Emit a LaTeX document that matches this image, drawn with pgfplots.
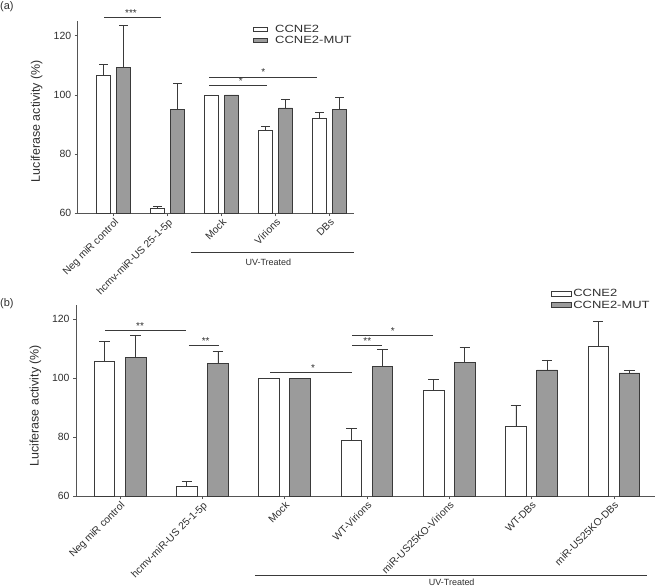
\documentclass[border=0pt]{standalone}
\usepackage{pgfplots}
\pgfplotsset{compat=1.18}
\usepackage{fontspec}
\setmainfont{Liberation Sans}
\definecolor{barline}{HTML}{3A3A3A}
\definecolor{bargray}{HTML}{9B9B9B}
\definecolor{axisgray}{HTML}{555555}
\definecolor{txt}{HTML}{2E2E2E}
\newcommand{\legfont}{\fontsize{10.5}{10.5}\selectfont\addfontfeature{FakeStretch=1.24}}
\pgfplotsset{
  mybars/.style={
    scale only axis, axis lines=left,
    axis line style={-, axisgray, line width=0.9bp},
    ymin=60, ymax=125, ytick={60,80,100,120},
    tick align=outside, major tick length=3bp,
    tick style={axisgray, line width=0.7bp},
    y tick label style={font=\fontsize{10.5}{12}\selectfont, color=txt},
    x tick label style={font=\fontsize{10.3}{11}\selectfont, rotate=45, anchor=north east, inner sep=1bp, color=txt},
    /pgf/number format/assume math mode=true,
    ylabel={Luciferase activity (\%)},
    ybar,
    error bars/y dir=plus, error bars/y explicit,
    error bars/error bar style={barline, line width=0.8bp},
    legend cell align=left,
  },
  whitebar/.style={draw=barline, fill=white, line width=0.8bp},
  graybar/.style={draw=barline, fill=bargray, line width=0.8bp},
}
\begin{document}
\begin{tikzpicture}
\path[use as bounding box] (0bp,0bp) rectangle (656bp,-588bp);
% ---------------- panel (a)
\begin{axis}[mybars,
  at={(77.7bp,-213.3bp)}, anchor=south west,
  width=276.3bp, height=192.4bp,
  xmin=-0.667, xmax=4.45,
  xtick={0,1,2,3,4},
  xticklabels={Neg miR control, hcmv-miR-US 25-1-5p, Mock, Virions, DBs},
  bar width=14bp,
  every axis y label/.style={at={(axis description cs:0,0.5)}, xshift=-41bp, yshift=-4bp, rotate=90, anchor=center, font=\fontsize{12.5}{14}\selectfont, color=txt},
  error bars/error mark options={rotate=90, barline, line width=0.8bp, mark size=4.5bp},
  legend image code/.code={\draw[#1] (0bp,-2bp) rectangle (14.4bp,2bp);},
  legend style={draw=none, fill=none, inner sep=0pt, at={(axis description cs:0.632,0.99)}, anchor=north west,
    font=\legfont, row sep=-1.5bp,
    nodes={text=txt, inner xsep=7.5bp}},
]
\addplot[whitebar, bar shift=-10bp, error bars/.cd, y dir=plus, y explicit]
  coordinates {(0,106.7) +- (0,3.7) (1,61.5) +- (0,0.8) (2,100) +- (0,0) (3,88) +- (0,1.2) (4,92.2) +- (0,1.8)};
\addlegendentry{CCNE2}
\addplot[graybar, bar shift=10bp, error bars/.cd, y dir=plus, y explicit]
  coordinates {(0,109.3) +- (0,14.3) (1,95.2) +- (0,8.7) (2,100) +- (0,0) (3,95.6) +- (0,2.8) (4,95) +- (0,4.2)};
\addlegendentry{CCNE2-MUT}
\coordinate (a1l) at (axis cs:-0.174,126.2);
\coordinate (a1r) at (axis cs:0.876,126.2);
\coordinate (a1s) at (axis cs:0.32,126.2);
\coordinate (a2l) at (axis cs:1.765,103.24);
\coordinate (a2r) at (axis cs:2.833,103.24);
\coordinate (a2s) at (axis cs:2.352,103.24);
\coordinate (a3l) at (axis cs:1.765,106.05);
\coordinate (a3r) at (axis cs:3.759,106.05);
\coordinate (a3s) at (axis cs:2.77,106.05);
\coordinate (auvl) at (axis cs:1.431,46.82);
\coordinate (auvr) at (axis cs:4.45,46.82);
\coordinate (auvt) at (axis cs:2.863,43.3);
\end{axis}
\begin{scope}[barline, line width=0.8bp]
\draw (a1l) -- (a1r);
\draw (a2l) -- (a2r);
\draw (a3l) -- (a3r);
\draw (auvl) -- (auvr);
\end{scope}
\begin{scope}[every node/.style={font=\fontsize{10}{10}\selectfont, text=txt, inner sep=0pt}]
\node[anchor=base] at ([yshift=1bp]a1s) {***};
\node[anchor=base] at ([yshift=1bp]a2s) {*};
\node[anchor=base] at ([yshift=1bp]a3s) {*};
\node[font=\fontsize{9}{9}\selectfont] at (auvt) {UV-Treated};
\end{scope}
\node[anchor=west, font=\fontsize{11}{11}\selectfont, text=txt, inner sep=0pt] at (0bp,-7bp) {(a)};
% ---------------- panel (b)
\begin{axis}[mybars,
  at={(76bp,-496bp)}, anchor=south west,
  width=579bp, height=191.4bp,
  xmin=-0.535, xmax=6.5,
  xtick={0,1,2,3,4,5,6},
  xticklabels={Neg miR control, hcmv-miR-US 25-1-5p, Mock, WT-Virions, miR-US25KO-Virions, WT-DBs, miR-US25KO-DBs},
  bar width=20.7bp,
  every axis y label/.style={at={(axis description cs:0,0.5)}, xshift=-40.5bp, yshift=-5.5bp, rotate=90, anchor=center, font=\fontsize{12.5}{14}\selectfont, color=txt},
  error bars/error mark options={rotate=90, barline, line width=0.8bp, mark size=5.2bp},
  legend image code/.code={\draw[#1] (0bp,-2.4bp) rectangle (20bp,2.4bp);},
  legend style={draw=none, fill=none, inner sep=0pt, at={(axis description cs:0.82,1.09)}, anchor=north west,
    font=\legfont, row sep=-1.5bp,
    nodes={text=txt, inner xsep=1.5bp}},
]
\addplot[whitebar, bar shift=-15.6bp, error bars/.cd, y dir=plus, y explicit]
  coordinates {(0,105.6) +- (0,6.8) (1,63.1) +- (0,1.8) (2,100) +- (0,0) (3,78.8) +- (0,4.2) (4,96) +- (0,3.6) (5,83.5) +- (0,7.4) (6,110.7) +- (0,8.5)};
\addlegendentry{CCNE2}
\addplot[graybar, bar shift=15.6bp, error bars/.cd, y dir=plus, y explicit]
  coordinates {(0,107) +- (0,7.7) (1,105.1) +- (0,4.0) (2,100) +- (0,0) (3,104.1) +- (0,5.7) (4,105.4) +- (0,5.0) (5,102.8) +- (0,3.4) (6,101.8) +- (0,1.0)};
\addlegendentry{CCNE2-MUT}
\coordinate (b1l) at (axis cs:-0.179,116.37);
\coordinate (b1r) at (axis cs:0.798,116.37);
\coordinate (b1s) at (axis cs:0.243,116.37);
\coordinate (b2l) at (axis cs:0.835,111.04);
\coordinate (b2r) at (axis cs:1.203,111.04);
\coordinate (b2s) at (axis cs:1.041,111.04);
\coordinate (b3l) at (axis cs:1.823,102.1);
\coordinate (b3r) at (axis cs:2.823,102.1);
\coordinate (b3s) at (axis cs:2.345,102.1);
\coordinate (b4l) at (axis cs:2.819,111.04);
\coordinate (b4r) at (axis cs:3.187,111.04);
\coordinate (b4s) at (axis cs:3.005,111.04);
\coordinate (b5l) at (axis cs:2.819,114.57);
\coordinate (b5r) at (axis cs:3.807,114.57);
\coordinate (b5s) at (axis cs:3.313,114.57);
\coordinate (buvl) at (axis cs:1.639,33.17);
\coordinate (buvr) at (axis cs:6.407,33.17);
\coordinate (buvt) at (axis cs:4.03,30.56);
\end{axis}
\begin{scope}[barline, line width=0.8bp]
\draw (b1l) -- (b1r);
\draw (b2l) -- (b2r);
\draw (b3l) -- (b3r);
\draw (b4l) -- (b4r);
\draw (b5l) -- (b5r);
\draw (buvl) -- (buvr);
\end{scope}
\begin{scope}[every node/.style={font=\fontsize{10}{10}\selectfont, text=txt, inner sep=0pt}]
\node[anchor=base] at ([yshift=1bp]b1s) {**};
\node[anchor=base] at ([yshift=1bp]b2s) {**};
\node[anchor=base] at ([yshift=1bp]b3s) {*};
\node[anchor=base] at ([yshift=1bp]b4s) {**};
\node[anchor=base] at ([yshift=1bp]b5s) {*};
\node[font=\fontsize{9}{9}\selectfont] at (buvt) {UV-Treated};
\end{scope}
\node[anchor=west, font=\fontsize{11}{11}\selectfont, text=txt, inner sep=0pt] at (0bp,-304bp) {(b)};
\end{tikzpicture}
\end{document}
